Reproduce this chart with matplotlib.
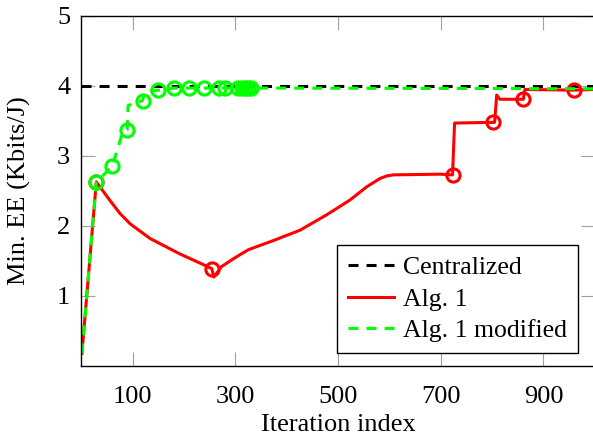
import matplotlib
matplotlib.use("Agg")
import matplotlib.pyplot as plt

# ---- data ----
central_x = [0, 1000]
central_y = [4.0, 4.0]

alg1_x = [1, 29, 40, 55, 75, 95, 134, 192, 231, 254, 258, 273, 300, 325, 377,
          426, 478, 523, 556, 582, 595, 608, 699, 723, 727, 802, 805, 809, 815,
          861, 864, 960, 1000]
alg1_y = [0.18, 2.63, 2.52, 2.37, 2.18, 2.03, 1.82, 1.60, 1.47, 1.39, 1.27, 1.42,
          1.55, 1.66, 1.80, 1.94, 2.16, 2.37, 2.56, 2.68, 2.715, 2.73, 2.74, 2.73,
          3.47, 3.48, 3.48, 3.87, 3.81, 3.81, 3.95, 3.94, 3.95]
alg1_marks = [1, 9, 23, 25, 29, 31]

mod_x = [1, 29, 60, 80, 89, 91, 119, 124, 150, 180, 209, 238, 268, 280, 305, 312,
         318, 324, 330, 1000]
mod_y = [0.18, 2.63, 2.85, 3.33, 3.37, 3.72, 3.79, 3.92, 3.94, 3.97, 3.97, 3.97,
         3.97, 3.97, 3.97, 3.97, 3.97, 3.97, 3.97, 3.96]
mod_marks = [1, 2, 4, 6, 8, 9, 10, 11, 12, 13, 14, 15, 16, 17, 18]

x_ticks = [100, 300, 500, 700, 900]
y_ticks = [1, 2, 3, 4, 5]

plt.rcParams["font.family"] = ["Liberation Serif", "DejaVu Serif"]
plt.rcParams["lines.scale_dashes"] = False

fig = plt.figure(figsize=(5.93, 4.36), dpi=100)
ax = fig.add_axes([0.1373, 0.1606, 0.8656, 0.8028])

dash = (0, (7.2, 5.8))
red, green = "#ff0000", "#00ff00"
ax.plot(central_x, central_y, color="black", lw=2.2, linestyle=dash,
        label="Centralized")
ax.plot(alg1_x, alg1_y, color=red, lw=2.2, label="Alg. 1")
ax.plot([alg1_x[i] for i in alg1_marks], [alg1_y[i] for i in alg1_marks],
        linestyle="none", marker="o", ms=9.5, mfc="none", mec=red, mew=2.2)
ax.plot(mod_x, mod_y, color=green, lw=2.2, linestyle=dash,
        label="Alg. 1 modified")
ax.plot([mod_x[i] for i in mod_marks], [mod_y[i] for i in mod_marks],
        linestyle="none", marker="o", ms=9.5, mfc="none", mec=green, mew=2.2)

ax.set_xlim(0, 1000)
ax.set_ylim(0, 5)
ax.set_xticks(x_ticks)
ax.set_yticks(y_ticks)
ax.tick_params(direction="in", length=10, width=0.8, color="#a0a0a0",
               labelsize=19, top=True, right=True)
ax.tick_params(axis="x", pad=14.5)
ax.tick_params(axis="y", pad=8)
for s in ax.spines.values():
    s.set_linewidth(1.0)
    s.set_color("black")

ax.set_xlabel("Iteration index", fontsize=19, labelpad=4.5)
ax.set_ylabel("Min. EE (Kbits/J)", fontsize=19)
ax.yaxis.set_label_coords(-0.098, 0.5)

leg = ax.legend(loc="lower right", bbox_to_anchor=(0.9675, 0.037),
                borderaxespad=0, fontsize=18.5, fancybox=False, framealpha=1,
                edgecolor="black", handlelength=1.8, handletextpad=0.35,
                borderpad=0.42, labelspacing=0.34)
leg.get_frame().set_linewidth(1.0)

fig.savefig("out.png", dpi=100)
